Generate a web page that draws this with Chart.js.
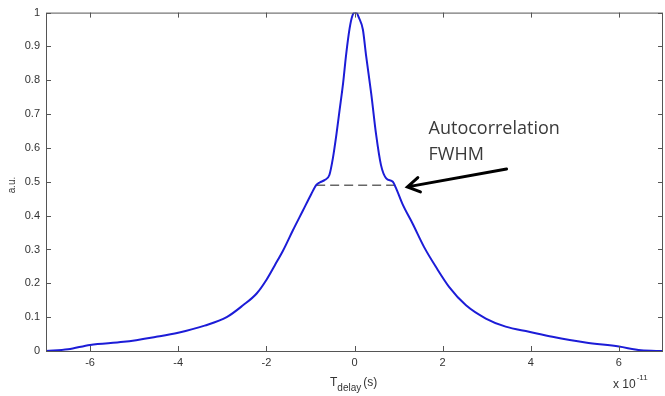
<!DOCTYPE html>
<html>
<head>
<meta charset="utf-8">
<script src="https://cdn.jsdelivr.net/npm/chart.js@4.4.1/dist/chart.umd.min.js"></script>
<style>
  html, body { margin: 0; padding: 0; background: #fff; }
  #wrap { width: 665px; height: 396px; position: relative; }
</style>
</head>
<body>
<div id="wrap"><canvas id="acChart"></canvas></div>
<script>
// delay in units of 1e-11 s, normalised autocorrelation trace
const delay = [-7, -6.5, -6, -5.24, -4.5, -4, -3.4, -2.9, -2.53, -2.22, -2.0, -1.81, -1.62, -1.4, -1.17, -0.98, -0.87, -0.79, -0.68, -0.57, -0.49, -0.41, -0.34, -0.26, -0.19, -0.11, -0.05, 0, 0.04, 0.1, 0.19, 0.26, 0.38, 0.49, 0.6, 0.72, 0.87, 0.94, 1.09, 1.32, 1.58, 1.85, 2.15, 2.53, 2.98, 3.43, 3.96, 4.49, 5.24, 6.0, 6.5, 7];
const intensity = [0, 0.005, 0.018, 0.027, 0.042, 0.054, 0.075, 0.1, 0.135, 0.17, 0.21, 0.253, 0.297, 0.356, 0.415, 0.464, 0.49, 0.498, 0.505, 0.52, 0.57, 0.64, 0.71, 0.79, 0.876, 0.954, 0.99, 1.0, 1.0, 0.985, 0.95, 0.876, 0.76, 0.64, 0.55, 0.51, 0.5, 0.482, 0.434, 0.376, 0.307, 0.248, 0.189, 0.135, 0.096, 0.072, 0.057, 0.042, 0.025, 0.013, 0.002, 0];

const xTicks = [-6, -4, -2, 0, 2, 4, 6];
const yTicks = [0, 0.1, 0.2, 0.3, 0.4, 0.5, 0.6, 0.7, 0.8, 0.9, 1];

// half-maximum marker and its label
const fwhmLevel = 0.49;
const fwhmEnds = [-0.87, 0.93];
const arrowFrom = [3.45, 0.538];
const arrowTo = [1.2, 0.485];
const noteLines = ['Autocorrelation', 'FWHM'];
const noteAt = [1.68, 0.64];
const noteGap = 0.075;

const axisColor = '#555';
const textColor = '#333';

const frame = {
  id: 'frame',
  afterDraw(chart) {
    const { ctx, chartArea: a, scales: { x, y } } = chart;
    ctx.save();
    ctx.strokeStyle = axisColor;
    ctx.lineWidth = 1;
    ctx.strokeRect(a.left + 0.5, a.top + 0.5, a.right - a.left - 1, a.bottom - a.top);
    ctx.beginPath();
    const tl = 5;
    xTicks.forEach(v => {
      const px = Math.round(x.getPixelForValue(v)) + 0.5;
      ctx.moveTo(px, a.bottom); ctx.lineTo(px, a.bottom - tl);
      ctx.moveTo(px, a.top); ctx.lineTo(px, a.top + tl);
    });
    yTicks.forEach(v => {
      const py = Math.round(y.getPixelForValue(v)) + 0.5;
      ctx.moveTo(a.left, py); ctx.lineTo(a.left + tl, py);
      ctx.moveTo(a.right, py); ctx.lineTo(a.right - tl, py);
    });
    ctx.stroke();

    // axis titles
    ctx.fillStyle = textColor;
    ctx.font = '12px "Liberation Sans", Arial, sans-serif';
    ctx.textBaseline = 'alphabetic';
    let tx = 330;
    ctx.fillText('T', tx, 386);
    tx += ctx.measureText('T').width;
    ctx.font = '10px "Liberation Sans", Arial, sans-serif';
    ctx.fillText('delay', tx, 391);
    tx += ctx.measureText('delay').width + 2;
    ctx.font = '12px "Liberation Sans", Arial, sans-serif';
    ctx.fillText('(s)', tx, 386);

    let ex = 613;
    ctx.fillText('x 10', ex, 388);
    ex += ctx.measureText('x 10').width + 1;
    ctx.font = '8px "Liberation Sans", Arial, sans-serif';
    ctx.fillText('-11', ex, 380);

    ctx.save();
    ctx.translate(15, 185);
    ctx.rotate(-Math.PI / 2);
    ctx.font = '10px "Liberation Sans", Arial, sans-serif';
    ctx.textAlign = 'center';
    ctx.fillText('a.u.', 0, 0);
    ctx.restore();

    // annotation arrow
    const x0 = x.getPixelForValue(arrowFrom[0]), y0 = y.getPixelForValue(arrowFrom[1]);
    const x1 = x.getPixelForValue(arrowTo[0]), y1 = y.getPixelForValue(arrowTo[1]);
    const ang = Math.atan2(y1 - y0, x1 - x0);
    ctx.strokeStyle = '#000';
    ctx.lineWidth = 3;
    ctx.lineCap = 'round';
    ctx.beginPath();
    ctx.moveTo(x0, y0); ctx.lineTo(x1, y1);
    const hl = 14, ha = 0.55;
    ctx.moveTo(x1 + hl * Math.cos(ang + Math.PI - ha), y1 + hl * Math.sin(ang + Math.PI - ha));
    ctx.lineTo(x1, y1);
    ctx.lineTo(x1 + hl * Math.cos(ang + Math.PI + ha), y1 + hl * Math.sin(ang + Math.PI + ha));
    ctx.stroke();

    ctx.fillStyle = '#3a3a3a';
    ctx.font = '18px "Open Sans", sans-serif';
    noteLines.forEach((s, i) => {
      ctx.fillText(s, x.getPixelForValue(noteAt[0]), y.getPixelForValue(noteAt[1] - i * noteGap));
    });
    ctx.restore();
  }
};

new Chart(document.getElementById('acChart'), {
  type: 'scatter',
  data: {
    datasets: [
      {
        data: delay.map((d, i) => ({ x: d, y: intensity[i] })),
        showLine: true,
        borderColor: 'rgb(28, 28, 215)',
        borderWidth: 2,
        pointRadius: 0,
        cubicInterpolationMode: 'monotone'
      },
      {
        data: fwhmEnds.map(d => ({ x: d, y: fwhmLevel })),
        showLine: true,
        borderColor: '#666',
        borderWidth: 1.5,
        borderDash: [9, 5],
        pointRadius: 0
      }
    ]
  },
  options: {
    responsive: true,
    maintainAspectRatio: false,
    animation: false,
    layout: { padding: { top: 11, right: 2, left: 0, bottom: 0 } },
    plugins: { legend: { display: false }, tooltip: { enabled: false } },
    scales: {
      x: {
        type: 'linear',
        min: -7,
        max: 7,
        afterBuildTicks: s => { s.ticks = xTicks.map(v => ({ value: v })); },
        afterFit: s => { s.height = 45; },
        grid: { display: false, drawTicks: false },
        border: { display: false },
        ticks: {
          padding: 5,
          color: textColor,
          font: { family: '"Liberation Sans", Arial, sans-serif', size: 11 },
          maxRotation: 0,
          callback: v => String(v)
        }
      },
      y: {
        min: 0,
        max: 1,
        afterBuildTicks: s => { s.ticks = yTicks.map(v => ({ value: v })); },
        afterFit: s => { s.width = 46; },
        grid: { display: false, drawTicks: false },
        border: { display: false },
        ticks: {
          padding: 6,
          color: textColor,
          font: { family: '"Liberation Sans", Arial, sans-serif', size: 11 },
          callback: v => String(+v.toFixed(1))
        }
      }
    }
  },
  plugins: [frame]
});
</script>
</body>
</html>
